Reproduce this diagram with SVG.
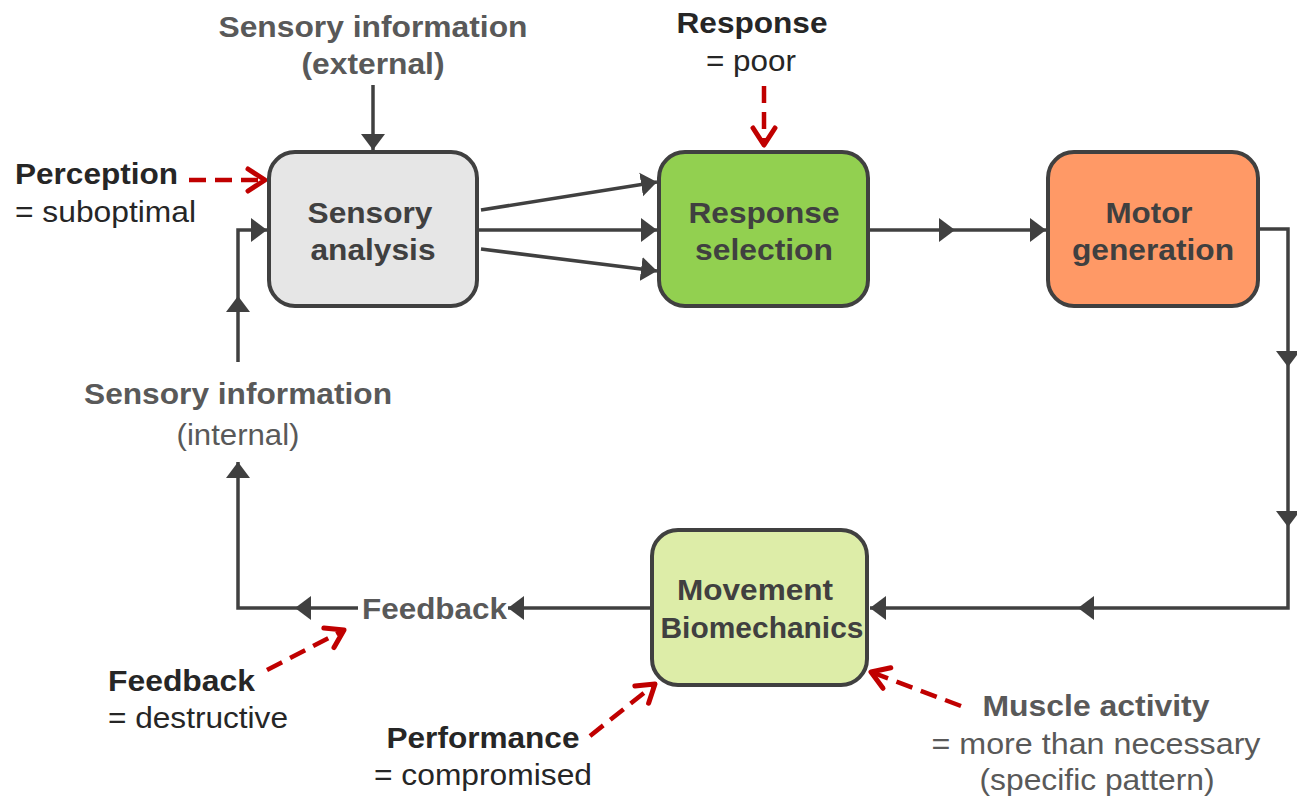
<svg xmlns="http://www.w3.org/2000/svg" width="1297" height="799" viewBox="0 0 1297 799">
<style>
text{font-family:"Liberation Sans",Arial,sans-serif;font-size:29px}
.b{font-weight:bold}
.node rect{stroke:#404040;stroke-width:4}
.nt{fill:#404040;font-weight:bold;text-anchor:middle}
.g{fill:#595959}
.d{fill:#262626}
.m{text-anchor:middle}
.c{fill:none;stroke:#404040;stroke-width:3.5}
.r{fill:none;stroke:#c00000;stroke-width:4.5;stroke-dasharray:17 9}
</style>
<defs>
<marker id="a" markerUnits="userSpaceOnUse" markerWidth="18" markerHeight="26" refX="16" refY="12" orient="auto" viewBox="0 0 18 24">
<path d="M0,0 L16,12 L0,24 z" fill="#404040"/>
</marker>
<marker id="v" markerUnits="userSpaceOnUse" markerWidth="26" markerHeight="30" refX="20" refY="14" orient="auto" viewBox="0 0 26 28">
<path d="M3,3 L20,14 L3,25" fill="none" stroke="#c00000" stroke-width="5" stroke-linecap="round" stroke-linejoin="round"/>
</marker>
</defs>

<g id="connectors">
<path class="c" d="M373,85 V150" marker-end="url(#a)"/>
<path class="c" d="M481,210 L657,182" marker-end="url(#a)"/>
<path class="c" d="M477,230 H657" stroke-width="4.5" marker-end="url(#a)"/>
<path class="c" d="M481,249 L657,271" marker-end="url(#a)"/>
<path class="c" d="M868,230 H955" marker-end="url(#a)"/>
<path class="c" d="M955,230 H1046" marker-end="url(#a)"/>
<path class="c" d="M1258,229 H1288 V367" marker-end="url(#a)"/>
<path class="c" d="M1288,367 V527" marker-end="url(#a)"/>
<path class="c" d="M1288,527 V608 H1078" marker-end="url(#a)"/>
<path class="c" d="M1078,608 H870" marker-end="url(#a)"/>
<path class="c" d="M650,608 H508" marker-end="url(#a)"/>
<path class="c" d="M358,608 H295" marker-end="url(#a)"/>
<path class="c" d="M295,608 H238 V462" marker-end="url(#a)"/>
<path class="c" d="M238,362 V296" marker-end="url(#a)"/>
<path class="c" d="M238,296 V230 H267" marker-end="url(#a)"/>
<path class="r" d="M189,180 H265" marker-end="url(#v)"/>
<path class="r" d="M764,86 V145" stroke-dasharray="21 14" marker-end="url(#v)"/>
<path class="r" d="M267,670 L344,630" marker-end="url(#v)"/>
<path class="r" d="M590,736 L655,684" marker-end="url(#v)"/>
<path class="r" d="M961,706 L871,672" marker-end="url(#v)"/>
</g>

<g id="sensory-analysis" class="node">
<rect x="269" y="152" width="208" height="154" rx="26" fill="#e6e6e6"/>
<text class="nt" x="370" y="223" textLength="125" lengthAdjust="spacingAndGlyphs">Sensory</text>
<text class="nt" x="373" y="260" textLength="125" lengthAdjust="spacingAndGlyphs">analysis</text>
</g>
<g id="response-selection" class="node">
<rect x="659" y="152" width="209" height="154" rx="26" fill="#92d050"/>
<text class="nt" x="764" y="223" textLength="151" lengthAdjust="spacingAndGlyphs">Response</text>
<text class="nt" x="764" y="260" textLength="138" lengthAdjust="spacingAndGlyphs">selection</text>
</g>
<g id="motor-generation" class="node">
<rect x="1048" y="152" width="210" height="154" rx="26" fill="#ff9966"/>
<text class="nt" x="1149" y="223" textLength="87" lengthAdjust="spacingAndGlyphs">Motor</text>
<text class="nt" x="1153" y="260" textLength="162" lengthAdjust="spacingAndGlyphs">generation</text>
</g>
<g id="movement-biomechanics" class="node">
<rect x="652" y="530" width="215" height="155" rx="26" fill="#ddeda8"/>
<text class="nt" x="755" y="600" textLength="156" lengthAdjust="spacingAndGlyphs">Movement</text>
<text class="nt" x="762" y="638" textLength="203" lengthAdjust="spacingAndGlyphs">Biomechanics</text>
</g>

<g id="sensory-external">
<text class="b g m" x="373" y="37" textLength="309" lengthAdjust="spacingAndGlyphs">Sensory information</text>
<text class="b g m" x="373" y="74" textLength="143" lengthAdjust="spacingAndGlyphs">(external)</text>
</g>
<g id="response-label">
<text class="b d m" x="752" y="33" textLength="151" lengthAdjust="spacingAndGlyphs">Response</text>
<text class="d m" x="751" y="71" textLength="90" lengthAdjust="spacingAndGlyphs">= poor</text>
</g>
<g id="perception-label">
<text class="b d" x="15" y="184" textLength="163" lengthAdjust="spacingAndGlyphs">Perception</text>
<text class="d" x="15" y="222" textLength="181" lengthAdjust="spacingAndGlyphs">= suboptimal</text>
</g>
<g id="sensory-internal">
<text class="b g m" x="238" y="404" textLength="308" lengthAdjust="spacingAndGlyphs">Sensory information</text>
<text class="g m" x="238" y="445" textLength="123" lengthAdjust="spacingAndGlyphs">(internal)</text>
</g>
<g id="feedback-node">
<text class="b g" x="362" y="619" textLength="145" lengthAdjust="spacingAndGlyphs">Feedback</text>
</g>
<g id="feedback-label">
<text class="b d" x="108" y="691" textLength="147" lengthAdjust="spacingAndGlyphs">Feedback</text>
<text class="d" x="108" y="728" textLength="180" lengthAdjust="spacingAndGlyphs">= destructive</text>
</g>
<g id="performance-label">
<text class="b d m" x="483" y="748" textLength="193" lengthAdjust="spacingAndGlyphs">Performance</text>
<text class="d m" x="483" y="785" textLength="218" lengthAdjust="spacingAndGlyphs">= compromised</text>
</g>
<g id="muscle-label">
<text class="b g m" x="1096" y="716" textLength="227" lengthAdjust="spacingAndGlyphs">Muscle activity</text>
<text class="g m" x="1096" y="754" textLength="329" lengthAdjust="spacingAndGlyphs">= more than necessary</text>
<text class="g m" x="1097" y="790" textLength="235" lengthAdjust="spacingAndGlyphs">(specific pattern)</text>
</g>
</svg>
